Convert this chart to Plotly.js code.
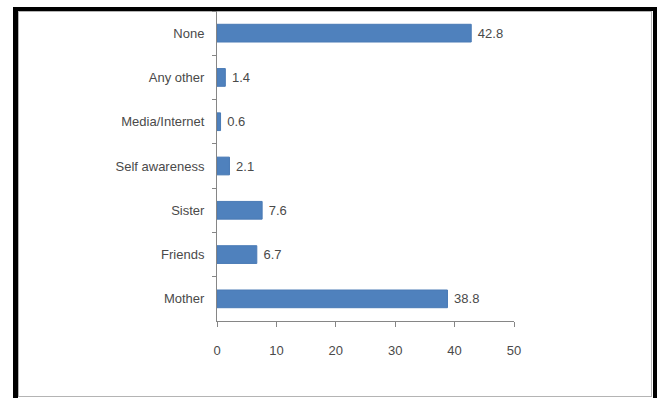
<!DOCTYPE html>
<html>
<head>
<meta charset="utf-8">
<script src="https://cdn.plot.ly/plotly-3.0.1.min.js"></script>
<style>
  html, body { margin: 0; padding: 0; background: #ffffff; }
  #wrap { position: relative; width: 657px; height: 398px; overflow: hidden; }
  #outer { position: absolute; left: 13px; top: 7px; width: 644px; height: 391px;
           box-sizing: border-box; border-left: 5px solid #000; border-top: 4px solid #000;
           border-right: 4px solid #000; }
  #inner { position: absolute; left: 18px; top: 11px; width: 634px; height: 386px;
           box-sizing: border-box; border: 1px solid #b4b4b4; }
  #chart { position: absolute; left: 0; top: 0; width: 657px; height: 398px; }
</style>
</head>
<body>
<div id="wrap">
  <div id="outer"></div>
  <div id="inner"></div>
  <div id="chart"></div>
</div>
<script>
const categories = ["None", "Any other", "Media/Internet", "Self awareness", "Sister", "Friends", "Mother"];
const values = [42.8, 1.4, 0.6, 2.1, 7.6, 6.7, 38.8];
const xTickValues = [0, 10, 20, 30, 40, 50];

const textFont = { family: "Liberation Sans Narrow, Arial Narrow, sans-serif", size: 13, color: "#4a4a4a" };

const trace = {
  type: "bar",
  orientation: "h",
  y: categories,
  x: values,
  text: values.map(v => "\u00a0" + v.toFixed(1)),
  textposition: "outside",
  cliponaxis: false,
  textfont: textFont,
  marker: { color: "#4f81bd", line: { color: "#4a7ab5", width: 1 } },
  hoverinfo: "none"
};

const layout = {
  width: 657, height: 398,
  margin: { l: 217, r: 143, t: 11, b: 77 },
  paper_bgcolor: "rgba(0,0,0,0)",
  plot_bgcolor: "rgba(0,0,0,0)",
  showlegend: false,
  bargap: 0.6,
  font: textFont,
  xaxis: {
    range: [0, 50], tickvals: xTickValues, ticktext: xTickValues.map(String),
    showgrid: false, zeroline: false,
    showline: true, linecolor: "#868686", linewidth: 1,
    ticks: "outside", ticklen: 5, tickcolor: "#868686",
    tickfont: textFont, ticklabelstandoff: 12
  },
  yaxis: {
    type: "category", autorange: "reversed",
    showgrid: false, zeroline: false,
    showline: true, linecolor: "#868686", linewidth: 1,
    ticks: "outside", ticklen: 4, tickcolor: "#868686", tickson: "boundaries",
    tickfont: textFont, ticklabelstandoff: 9
  }
};

Plotly.newPlot("chart", [trace], layout, { staticPlot: true, displayModeBar: false });
</script>
</body>
</html>
